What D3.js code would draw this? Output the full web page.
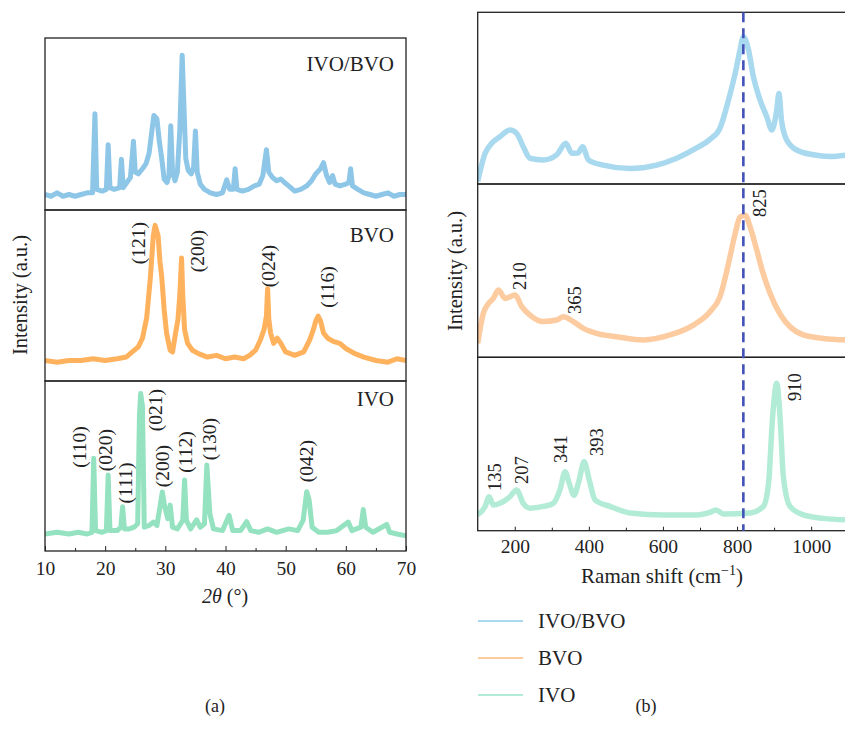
<!DOCTYPE html>
<html lang="en">
<head>
<meta charset="UTF-8">
<title>XRD and Raman</title>
<script src="https://d3js.org/d3.v7.min.js"></script>
<style>
    body { margin: 0; background: #fff; }
    svg text { font-family: "Liberation Serif", "DejaVu Serif", serif; fill: #222; }
</style>
</head>
<body>
<script>
    // ---- data (y = 0..100 inside each stacked sub-panel) ----
    var xrdTicks = [10, 20, 30, 40, 50, 60, 70];
    var ramanTicks = [200, 400, 600, 800, 1000];
    var seriesNames = ["IVO/BVO", "BVO", "IVO"];

    var xrdHetero = [[10,9],[11,8],[12,10],[13,8],[14,9],[15,8],[16,9],[17,10],[17.9,10],[18.3,56],[18.6,12],[19.5,11],[20.2,12],[20.5,38],[20.8,13],[21.5,12],[22.4,13],[22.7,29.5],[23,13],[23.6,16],[24.2,19],[24.7,40],[25,22],[25.5,21],[26.2,24],[26.8,27],[27.3,33],[27.8,47],[28.1,55],[28.6,53],[29,40],[29.4,30],[29.8,18],[30.3,16],[30.6,20],[30.9,49],[31.2,22],[31.6,17],[32,22],[32.4,46],[32.8,90],[33.1,60],[33.4,30],[33.8,23],[34.3,21],[34.7,25],[35,46],[35.3,22],[35.8,15],[36.5,12],[37.5,10],[38.5,9],[39.5,10],[40.2,17.5],[40.7,12],[41.3,12],[41.6,24],[41.9,12],[42.8,11],[43.8,12],[44.8,14],[45.6,15],[46.2,20],[46.8,35],[47.2,22],[47.8,19],[48.5,17],[49.2,18],[49.8,16],[50.5,14],[51.5,11],[52.5,12],[53.5,14],[54.3,17],[55,21],[55.8,24],[56.3,27.5],[56.8,20],[57.3,16],[57.8,20],[58.2,15],[59,14],[60,15],[60.5,16],[60.8,24],[61.1,14],[62,12],[63,10],[64,9],[65,8],[66,9],[67,10],[68,8],[69,9],[70,9]];
    var xrdBVO = [[10,12],[12,11],[14,12],[16,12],[18,13],[20,12],[22,13],[23.5,14],[24.5,17],[25.5,20],[26.2,25],[26.9,37],[27.5,60],[28,85],[28.3,91],[28.8,85],[29.1,70],[29.4,61],[29.8,42],[30.2,28],[30.8,18],[31.2,17],[31.7,28],[32.1,36],[32.4,50],[32.7,72],[32.9,50],[33.2,30],[33.7,22],[34.5,18],[35.5,16],[37,14],[38.5,15],[40,13],[41.5,14],[43,13],[44,15],[45,18],[45.8,24],[46.4,30],[46.8,38],[47,54],[47.2,36],[47.5,28],[48,22],[48.6,25],[49.2,22],[50,17],[51.5,15],[53,17],[54,24],[54.6,30],[55,35],[55.4,38],[55.8,35],[56.3,28],[57,25],[58,23],[59,22],[60,19],[61.5,16],[63,14],[65,12],[67,11],[68.5,13],[70,12]];
    var xrdIVO = [[10,10],[12,11],[14,10],[15.5,11],[17,10],[17.8,11],[18.1,54.5],[18.4,12],[19.5,11],[20.2,12],[20.5,44.7],[20.8,12],[22,12],[22.6,14],[22.9,26],[23.2,13],[24,13],[24.8,14],[25.4,16],[25.7,80],[25.9,92.7],[26.2,85],[26.5,14],[27.3,15],[28,17],[28.6,15],[29.2,28],[29.5,34.7],[29.9,26],[30.4,19],[30.8,27],[31.2,14],[32,13],[32.9,18],[33.2,41.8],[33.5,18],[34.2,13],[35.2,18.3],[35.8,14],[36.5,16],[36.9,50.6],[37.4,22],[38,13],[39.5,12],[40.6,21],[41.2,12],[42.5,12],[43.5,17.3],[44.2,12],[45.5,11],[47,13],[48.5,11],[50.5,13],[52,12],[52.9,18],[53.5,34.9],[53.9,30],[54.4,14],[55.5,11],[57,11],[58.5,12],[60.4,17],[61,12],[62.5,14],[62.9,24.4],[63.3,14],[64.5,11],[66.8,15.6],[67.3,11],[68.5,10],[70,9]];

    var ramanHetero = [[100,1.5],[120,17.9],[138,23.7],[160,27.5],[187,31.4],[205,29.5],[223,21.7],[241,15],[277,14],[313,17],[338,23.7],[354,17.9],[370,18],[383,21.7],[399,14],[439,11],[511,9],[583,11],[637,15],[691,21],[727,26],[754,32.6],[777,49],[795,64.5],[808,78],[817,85.8],[831,78],[844,62.5],[862,49],[880,39.3],[894,31.5],[907,43],[913,52.7],[920,37],[934,25.6],[961,19.8],[1006,17],[1051,16],[1100,17]];
    var ramanBVO = [[100,8],[115,25.3],[129,31],[142,34],[156,38.8],[174,34],[201,35.9],[219,29.2],[241,24.4],[277,20.6],[313,21.5],[331,23.4],[358,20.6],[385,16.7],[421,13.8],[475,11.9],[547,10],[619,12.9],[682,18.6],[727,26.3],[754,35],[777,54.2],[795,71.5],[808,81],[822,82],[835,75.4],[853,62],[871,48],[889,37],[916,25],[943,17.6],[979,12.9],[1033,10.9],[1100,10]];
    var ramanIVO = [[100,9.1],[120,14],[131,19.6],[142,14.8],[160,15.8],[187,19.6],[205,23.5],[223,15.8],[241,13],[277,14],[304,15.8],[322,23.5],[336,34],[347,27.3],[360,20.5],[374,29.3],[387,39.8],[401,29.3],[417,17.7],[457,14],[511,10.2],[601,9.1],[691,9.1],[727,10.6],[743,12],[763,9.7],[835,10.2],[871,14],[885,27.3],[896,65.8],[907,85],[916,65.8],[925,31.3],[943,14],[979,9.1],[1033,7.1],[1100,6.2]];

    var dashedShift = 817;

    // peak labels: [x value at label centre, panel row, label]
    var xrdLabels = [[25.5,1,"(121)"],[35.4,1,"(200)"],[47.1,1,"(024)"],[56.9,1,"(116)"],
                     [15.8,2,"(110)"],[20.1,2,"(020)"],[23.3,2,"(111)"],[28.3,2,"(021)"],[29.5,2,"(200)"],[33.4,2,"(112)"],[37.4,2,"(130)"],[53.5,2,"(042)"]];
    var xrdLabelY = [243, 251, 266, 287, 447, 450, 483, 410, 466, 452, 439, 461];
    var ramanLabels = [[825,"825"],[210,"210"],[365,"365"],[135,"135"],[207,"207"],[341,"341"],[393,"393"],[910,"910"]];
    var ramanLabelPos = [[760,203],[520,276],[575,300],[495,477],[522,470],[561,449],[597,442],[795,387]];

    var colorsA = ["#8ec6e8", "#ffb25e", "#94e2c0"];
    var colorsB = ["#a9d9ef", "#fdcba0", "#b3ecd6"];

    var svg = d3.select("body").append("svg").attr("width", 845).attr("height", 744);

    // ---------------- panel (a) ----------------
    var ax = d3.scaleLinear().domain([10, 70]).range([45, 406]);
    var aRows = [[38, 210], [210, 381], [381, 551]];
    var aData = [xrdHetero, xrdBVO, xrdIVO];

    aRows.forEach(function (r, i) {
        var y = d3.scaleLinear().domain([0, 100]).range([r[1], r[0]]);
        svg.append("clipPath").attr("id", "ca" + i)
            .append("rect").attr("x", 45).attr("y", r[0]).attr("width", 361).attr("height", r[1] - r[0]);
        svg.append("path")
            .datum(aData[i])
            .attr("clip-path", "url(#ca" + i + ")")
            .attr("fill", "none")
            .attr("stroke", colorsA[i])
            .attr("stroke-width", 5)
            .attr("stroke-linejoin", "round")
            .attr("d", d3.line().x(function (d) { return ax(d[0]); }).y(function (d) { return y(d[1]); }));
        svg.append("rect").attr("x", 45).attr("y", r[0]).attr("width", 361).attr("height", r[1] - r[0])
            .attr("fill", "none").attr("stroke", "#222").attr("stroke-width", 1.3);
    });

    ["IVO/BVO", "BVO", "IVO"].forEach(function (t, i) {
        svg.append("text").attr("x", 394).attr("y", [71, 242, 406][i])
            .attr("text-anchor", "end").attr("font-size", 21).text(t);
    });

    xrdLabels.forEach(function (l, i) {
        svg.append("text")
            .attr("transform", "translate(" + (ax(l[0]) + 6.5) + "," + xrdLabelY[i] + ") rotate(-90)")
            .attr("text-anchor", "middle").attr("font-size", 19.5).text(l[2]);
    });

    var axA = svg.append("g").attr("transform", "translate(0,551)");
    axA.call(d3.axisBottom(ax).tickValues(xrdTicks).tickSize(-5).tickPadding(10).tickFormat(d3.format("d")));
    axA.select(".domain").remove();
    axA.selectAll("line").attr("stroke", "#222");
    axA.selectAll("text").attr("font-size", 19.5).attr("fill", "#222");
    svg.append("g").attr("transform", "translate(0,551)")
        .call(d3.axisBottom(ax).tickValues([15, 25, 35, 45, 55, 65]).tickSize(-3).tickFormat(""))
        .call(function (g) { g.select(".domain").remove(); g.selectAll("line").attr("stroke", "#222"); });

    var tA = svg.append("text").attr("x", 225).attr("y", 603).attr("text-anchor", "middle").attr("font-size", 20);
    tA.append("tspan").attr("font-style", "italic").text("2θ");
    tA.append("tspan").text(" (°)");

    svg.append("text").attr("transform", "translate(27,295) rotate(-90)")
        .attr("text-anchor", "middle").attr("font-size", 20.5).text("Intensity (a.u.)");

    // ---------------- panel (b) ----------------
    var bx = d3.scaleLinear().domain([100, 1100]).range([477.7, 848.2]);
    var bRows = [[12.3, 184], [184, 357.3], [357.3, 530.7]];
    var bData = [ramanHetero, ramanBVO, ramanIVO];

    bRows.forEach(function (r, i) {
        var y = d3.scaleLinear().domain([0, 100]).range([r[1], r[0]]);
        svg.append("clipPath").attr("id", "cb" + i)
            .append("rect").attr("x", 477.7).attr("y", r[0]).attr("width", 371).attr("height", r[1] - r[0]);
        svg.append("path")
            .datum(bData[i])
            .attr("clip-path", "url(#cb" + i + ")")
            .attr("fill", "none")
            .attr("stroke", colorsB[i])
            .attr("stroke-width", 5.5)
            .attr("stroke-linejoin", "round")
            .attr("d", d3.line().curve(d3.curveMonotoneX).x(function (d) { return bx(d[0]); }).y(function (d) { return y(d[1]); }));
        svg.append("rect").attr("x", 477.7).attr("y", r[0]).attr("width", 371).attr("height", r[1] - r[0])
            .attr("fill", "none").attr("stroke", "#222").attr("stroke-width", 1.3);
    });

    svg.append("line")
        .attr("x1", bx(dashedShift)).attr("x2", bx(dashedShift))
        .attr("y1", 12.3).attr("y2", 530.7)
        .attr("stroke", "#4353b8").attr("stroke-width", 2.6)
        .attr("stroke-dasharray", "10,6");

    ramanLabels.forEach(function (l, i) {
        svg.append("text")
            .attr("transform", "translate(" + (ramanLabelPos[i][0] + 6) + "," + ramanLabelPos[i][1] + ") rotate(-90)")
            .attr("text-anchor", "middle").attr("font-size", 18.5).text(l[1]);
    });

    var axB = svg.append("g").attr("transform", "translate(0,530.7)");
    axB.call(d3.axisBottom(bx).tickValues(ramanTicks).tickSize(-4).tickPadding(8).tickFormat(d3.format("d")));
    axB.select(".domain").remove();
    axB.selectAll("line").attr("stroke", "#222");
    axB.selectAll("text").attr("font-size", 19.5).attr("fill", "#222");
    svg.append("g").attr("transform", "translate(0,530.7)")
        .call(d3.axisBottom(bx).tickValues([300, 500, 700, 900]).tickSize(-3).tickFormat(""))
        .call(function (g) { g.select(".domain").remove(); g.selectAll("line").attr("stroke", "#222"); });

    var tB = svg.append("text").attr("x", 662).attr("y", 583).attr("text-anchor", "middle").attr("font-size", 21);
    tB.append("tspan").text("Raman shift (cm");
    tB.append("tspan").text("−1").attr("font-size", 14).attr("dy", -8);
    tB.append("tspan").text(")").attr("dy", 8);

    svg.append("text").attr("transform", "translate(462,271) rotate(-90)")
        .attr("text-anchor", "middle").attr("font-size", 20.5).text("Intensity (a.u.)");

    // legend
    var lg = svg.append("g").selectAll("g").data(seriesNames).enter().append("g")
        .attr("transform", function (d, i) { return "translate(478," + [621, 658, 695][i] + ")"; });
    lg.append("line").attr("x1", 0).attr("x2", 45)
        .attr("stroke", function (d, i) { return colorsB[i]; }).attr("stroke-width", 2);
    lg.append("text").attr("x", 60).attr("y", 7).attr("font-size", 21).text(function (d) { return d; });

    svg.append("text").attr("x", 215).attr("y", 712).attr("text-anchor", "middle").attr("font-size", 18).text("(a)");
    svg.append("text").attr("x", 646).attr("y", 712).attr("text-anchor", "middle").attr("font-size", 18).text("(b)");
</script>
</body>
</html>
